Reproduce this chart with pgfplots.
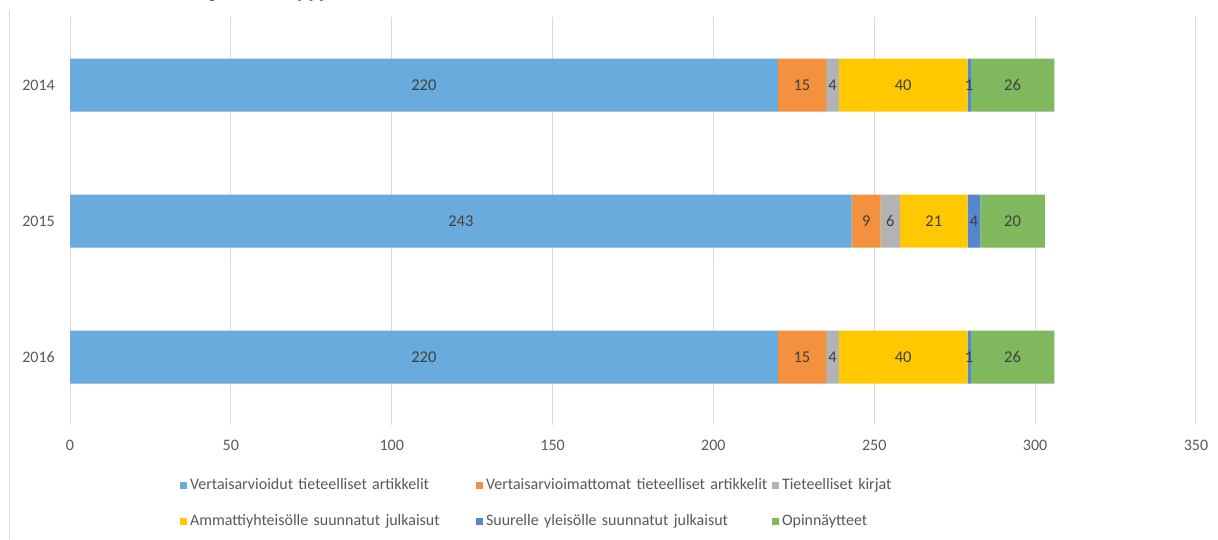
\documentclass[border=0pt]{standalone}
\usepackage{pgfplots}
\pgfplotsset{compat=1.18}
\usepackage{fontspec}
\setmainfont{Carlito}
\definecolor{c1}{HTML}{6AABDD}
\definecolor{c2}{HTML}{F3913F}
\definecolor{c3}{HTML}{B3B3B3}
\definecolor{c4}{HTML}{FFC800}
\definecolor{c5}{HTML}{5487CE}
\definecolor{c6}{HTML}{80B85E}
\definecolor{gridc}{HTML}{D9D9D9}
\definecolor{txt}{HTML}{595959}
\definecolor{lbl}{HTML}{404040}
\begin{document}
\begin{tikzpicture}[x=1pt,y=1pt]
\useasboundingbox (0,0) rectangle (1218,539);
\fill[white] (0,0) rectangle (1218,539);
\draw[draw=gridc, line width=1pt] (9.5,0) -- (9.5,529);
\node[anchor=base west, inner sep=0pt, font=\bfseries\fontsize{24}{28}\selectfont, text=txt] at (211,541) {julkaisutyypeittäin};
\begin{axis}[
  at={(70pt,114pt)}, anchor=south west,
  scale only axis, width=1126pt, height=408pt,
  xbar stacked, bar width=53pt,
  xmin=0, xmax=350, xtick={0,50,...,350},
  ymin=0.5, ymax=3.5, y dir=reverse,
  ytick={1,2,3}, yticklabels={2014,2015,2016},
  xmajorgrids, grid style={draw=gridc, line width=1pt},
  axis line style={draw=none},
  major tick length=0pt,
  tick label style={font=\fontsize{16}{19}\selectfont, text=txt},
  /pgf/number format/assume math mode=true,
  xticklabel style={anchor=north, inner sep=0pt, yshift=-15pt},
  yticklabel style={anchor=east, inner sep=0pt, xshift=-15pt},
  point meta=rawx,
  nodes near coords,
  every node near coord/.append style={font=\fontsize{16.5}{19}\selectfont, text=lbl, anchor=center, inner sep=0pt},
  legend image code/.code={\fill[#1] (0pt,-3.5pt) rectangle (7pt,3.5pt);},
  legend columns=3,
  legend cell align=left,
  legend style={draw=none, fill=none, inner sep=0pt, outer sep=0pt,
    at={(0.0977,-0.1299)}, anchor=north west,
    font=\fontsize{16}{19}\selectfont, text=txt,
    row sep=22pt,
    nodes={inner sep=0pt, text width=286pt, text height=11pt, text depth=3pt},
    /tikz/every odd column/.append style={column sep=3pt}},
]
\addplot+[fill=c1, draw=none] coordinates {(220,1) (243,2) (220,3)};
\addlegendentry{Vertaisarvioidut tieteelliset artikkelit}
\addplot+[fill=c2, draw=none] coordinates {(15,1) (9,2) (15,3)};
\addlegendentry{Vertaisarvioimattomat tieteelliset artikkelit}
\addplot+[fill=c3, draw=none] coordinates {(4,1) (6,2) (4,3)};
\addlegendentry{Tieteelliset kirjat}
\addplot+[fill=c4, draw=none] coordinates {(40,1) (21,2) (40,3)};
\addlegendentry{Ammattiyhteisölle suunnatut julkaisut}
\addplot+[fill=c5, draw=none] coordinates {(1,1) (4,2) (1,3)};
\addlegendentry{Suurelle yleisölle suunnatut julkaisut}
\addplot+[fill=c6, draw=none] coordinates {(26,1) (20,2) (26,3)};
\addlegendentry{Opinnäytteet}
\end{axis}
\end{tikzpicture}
\end{document}
